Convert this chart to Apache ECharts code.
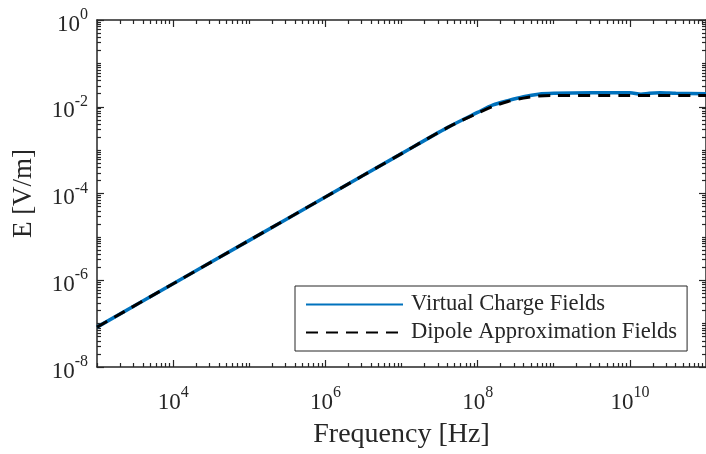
<!DOCTYPE html>
<html>
<head>
<meta charset="utf-8">
<script src="https://cdn.jsdelivr.net/npm/echarts@6/dist/echarts.min.js"></script>
<style>
  html, body { margin: 0; padding: 0; background: #fff; }
  #chart { width: 706px; height: 454px; }
</style>
</head>
<body>
<div id="chart"></div>
<script>
// frequencies [Hz] and field values [V/m]
const freqVirtual = [1e3, 1e4, 1e5, 1e6, 1e7, 4e7, 1e8, 1.6e8, 2.5e8, 4e8, 6.3e8, 1e9, 3.2e9, 1e10, 1.4e10, 1.8e10, 2.5e10, 4e10, 1e11];
const eVirtual    = [8.3e-8, 8.3e-7, 8.3e-6, 8.3e-5, 8.3e-4, 3.3e-3, 7.4e-3, 1.1e-2, 1.38e-2, 1.7e-2, 1.95e-2, 2.04e-2, 2.09e-2, 2.09e-2, 1.95e-2, 2.04e-2, 2.09e-2, 2.04e-2, 2.0e-2];

const freqDipole = [1e3, 1e4, 1e5, 1e6, 1e7, 4e7, 1e8, 1.6e8, 2.5e8, 4e8, 6.3e8, 1e9, 1e10, 1e11];
const eDipole    = [8.3e-8, 8.3e-7, 8.3e-6, 8.3e-5, 8.3e-4, 3.3e-3, 7.1e-3, 1.02e-2, 1.32e-2, 1.58e-2, 1.78e-2, 1.82e-2, 1.82e-2, 1.82e-2];

const xMajor = [1e4, 1e6, 1e8, 1e10];
const yMajor = [1e-8, 1e-6, 1e-4, 1e-2, 1e0];
const xDecades = [3, 4, 5, 6, 7, 8, 9, 10];
const yDecades = [-8, -7, -6, -5, -4, -3, -2, -1];

const FONT = '"Liberation Serif", "Times New Roman", serif';
const AXIS_COLOR = '#262626';

// 2..9 x 10^d plus the unlabelled decades
function minorTicks(decades) {
  const out = [];
  decades.forEach(function (d) {
    for (let m = 1; m <= 9; m++) {
      if (m === 1 && (d % 2 === 0)) continue;
      out.push(+(m * Math.pow(10, d)).toPrecision(3));
    }
  });
  return out;
}

function powLabel(v) {
  const e = Math.round(Math.log10(v));
  return '{b|10}{s|' + e + '}';
}

const labelRich = {
  b: { fontFamily: FONT, fontSize: 23, color: AXIS_COLOR, lineHeight: 29, verticalAlign: 'bottom' },
  s: { fontFamily: FONT, fontSize: 16, color: AXIS_COLOR, lineHeight: 16, verticalAlign: 'top' }
};

function xAxisDef(pos, major) {
  return {
    type: 'log', logBase: 10, min: 1e3, max: 1e11, position: pos,
    axisLine: { show: major, lineStyle: { color: AXIS_COLOR, width: 1.5 } },
    axisTick: {
      show: true, inside: true, length: major ? 7 : 4,
      customValues: major ? xMajor : minorTicks(xDecades),
      lineStyle: { color: AXIS_COLOR, width: 1.2 }
    },
    axisLabel: {
      show: major && pos === 'bottom', customValues: xMajor, margin: 18,
      formatter: powLabel, rich: labelRich
    },
    splitLine: { show: false },
    name: major && pos === 'bottom' ? 'Frequency [Hz]' : '',
    nameLocation: 'middle', nameGap: 54,
    nameTextStyle: { fontFamily: FONT, fontSize: 28, color: AXIS_COLOR }
  };
}

function yAxisDef(pos, major) {
  return {
    type: 'log', logBase: 10, min: 1e-8, max: 1, position: pos,
    axisLine: { show: major, lineStyle: { color: AXIS_COLOR, width: 1.5 } },
    axisTick: {
      show: true, inside: true, length: major ? 7 : 4,
      customValues: major ? yMajor : minorTicks(yDecades),
      lineStyle: { color: AXIS_COLOR, width: 1.2 }
    },
    axisLabel: {
      show: major && pos === 'left', customValues: yMajor, margin: 9,
      padding: [3, 0, 0, 0],
      formatter: powLabel, rich: labelRich
    },
    splitLine: { show: false },
    name: major && pos === 'left' ? 'E [V/m]' : '',
    nameLocation: 'middle', nameGap: 60,
    nameTextStyle: { fontFamily: FONT, fontSize: 27, color: AXIS_COLOR }
  };
}

const chart = echarts.init(document.getElementById('chart'), null, { renderer: 'canvas' });

chart.setOption({
  animation: false,
  backgroundColor: '#fff',
  grid: { left: 97, top: 20, right: -6, bottom: 84, containLabel: false },
  xAxis: [xAxisDef('bottom', true), xAxisDef('bottom', false), xAxisDef('top', true), xAxisDef('top', false)],
  yAxis: [yAxisDef('left', true), yAxisDef('left', false), yAxisDef('right', true), yAxisDef('right', false)],
  legend: {
    orient: 'vertical', left: 295, top: 286,
    itemWidth: 97, itemHeight: 14, itemGap: 5,
    padding: [7, 10, 7, 10],
    backgroundColor: '#fff', borderColor: AXIS_COLOR, borderWidth: 1,
    itemStyle: { opacity: 0 },
    textStyle: { fontFamily: FONT, fontSize: 22.6, color: AXIS_COLOR, lineHeight: 23, padding: [0, 0, 0, 3] },
    data: ['Virtual Charge Fields', 'Dipole Approximation Fields']
  },
  series: [
    {
      name: 'Virtual Charge Fields', type: 'line', symbol: 'none', smooth: 0.3,
      xAxisIndex: 0, yAxisIndex: 0,
      lineStyle: { color: '#0072BD', width: 3.5 }, itemStyle: { color: '#0072BD' },
      data: freqVirtual.map(function (f, i) { return [f, eVirtual[i]]; })
    },
    {
      name: 'Dipole Approximation Fields', type: 'line', symbol: 'none', smooth: 0.3,
      xAxisIndex: 0, yAxisIndex: 0,
      lineStyle: { color: '#000', width: 3, type: [12, 8] }, itemStyle: { color: '#000' },
      data: freqDipole.map(function (f, i) { return [f, eDipole[i]]; })
    }
  ]
});
</script>
</body>
</html>
